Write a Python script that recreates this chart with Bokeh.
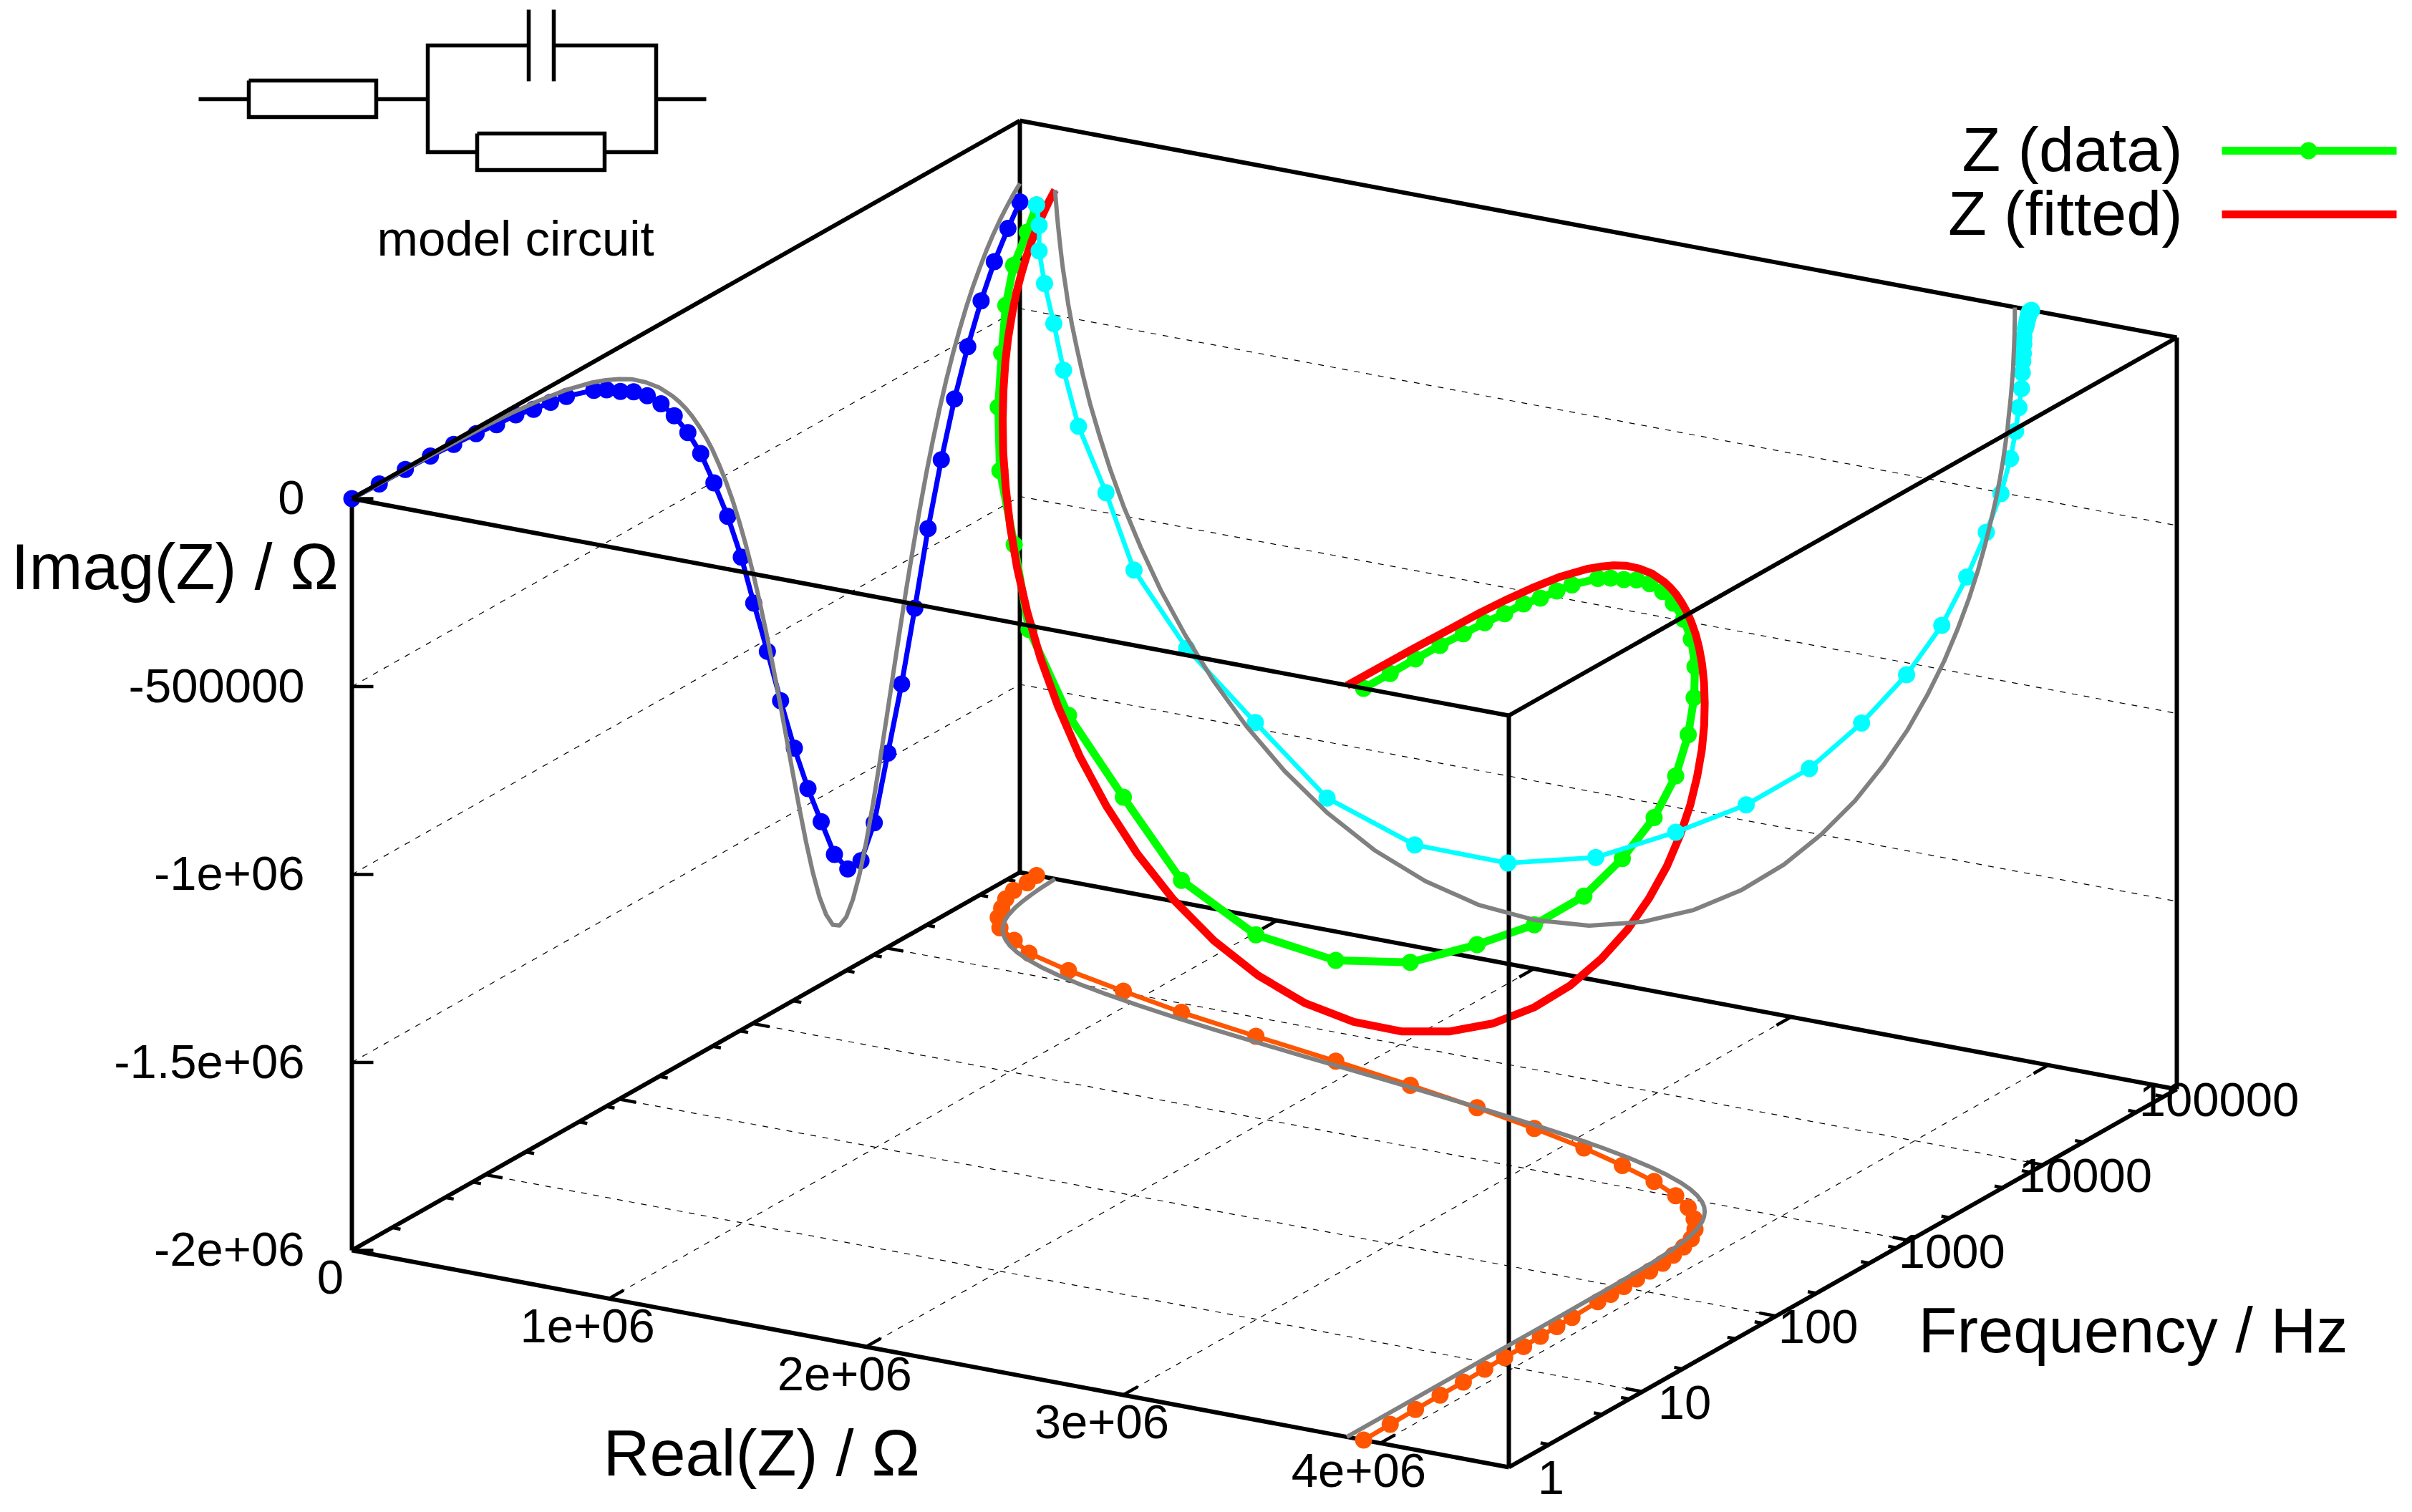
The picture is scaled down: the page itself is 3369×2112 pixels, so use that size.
from bokeh.plotting import figure
from bokeh.models import Range1d
from bokeh.core.properties import value
from bokeh.embed import file_html
from bokeh.resources import INLINE

# ---------- measured data (log10 of frequency in Hz, Z in megaohm) ----------
data_log_f = [0.000, 0.205, 0.400, 0.588, 0.762, 0.930, 1.083, 1.227, 1.360, 1.487, 1.606,
              1.811, 1.907, 2.010, 2.109, 2.211, 2.314, 2.413, 2.515, 2.611, 2.710, 2.813,
              2.915, 3.008, 3.110, 3.209, 3.312, 3.414, 3.513, 3.612, 3.712, 3.811, 3.910,
              4.012, 4.115, 4.214, 4.313, 4.412, 4.511, 4.610, 4.710, 4.809, 4.911, 5.000]
data_real = [3.935, 3.932, 3.929, 3.927, 3.927, 3.923, 3.921, 3.920, 3.916, 3.914, 3.911,
             3.905, 3.905, 3.903, 3.901, 3.899, 3.896, 3.886, 3.873, 3.853, 3.816, 3.759,
             3.683, 3.586, 3.449, 3.274, 3.071, 2.825, 2.551, 2.240, 1.898, 1.536, 1.195,
             0.916, 0.649, 0.444, 0.335, 0.228, 0.170, 0.132, 0.096, 0.075, 0.075, 0.065]
data_imag = [0.000, -0.002, -0.003, -0.005, -0.009, -0.014, -0.021, -0.024, -0.036, -0.043, -0.051,
             -0.076, -0.094, -0.119, -0.140, -0.171, -0.213, -0.265, -0.330, -0.405, -0.503, -0.613,
             -0.742, -0.883, -1.032, -1.183, -1.330, -1.458, -1.566, -1.673, -1.732, -1.730, -1.649,
             -1.484, -1.321, -1.139, -0.947, -0.784, -0.642, -0.523, -0.421, -0.337, -0.269, -0.216]

# ---------- fitted curve ----------
fit_log_f = [0.0, 0.5, 1.0, 1.2, 1.4, 1.6, 1.8, 1.9, 2.0, 2.1, 2.2, 2.3, 2.4, 2.45, 2.5, 2.55, 2.6,
             2.65, 2.7, 2.75, 2.8, 2.85, 2.9, 2.95, 3.0, 3.05, 3.1, 3.15, 3.2, 3.25, 3.3, 3.35, 3.4,
             3.45, 3.5, 3.55, 3.6, 3.65, 3.7, 3.75, 3.8, 3.85, 3.9, 3.95, 4.0, 4.05, 4.1, 4.15, 4.2,
             4.25, 4.3, 4.35, 4.4, 4.45, 4.5, 4.55, 4.6, 4.65, 4.7, 4.75, 4.8, 4.85, 4.9, 4.95, 5.0]
fit_real = [3.870, 3.870, 3.870, 3.870, 3.870, 3.870, 3.869, 3.869, 3.868, 3.867, 3.865, 3.863,
            3.858, 3.855, 3.851, 3.846, 3.841, 3.833, 3.824, 3.812, 3.797, 3.778, 3.755, 3.727,
            3.692, 3.648, 3.595, 3.530, 3.452, 3.358, 3.248, 3.119, 2.972, 2.805, 2.621, 2.423,
            2.214, 2.000, 1.786, 1.577, 1.379, 1.195, 1.029, 0.881, 0.752, 0.642, 0.548, 0.470,
            0.405, 0.352, 0.309, 0.273, 0.245, 0.222, 0.203, 0.188, 0.177, 0.167, 0.160, 0.154,
            0.149, 0.145, 0.142, 0.139, 0.137]
fit_imag = [-0.001, -0.003, -0.008, -0.013, -0.021, -0.033, -0.053, -0.067, -0.084, -0.105, -0.133,
            -0.167, -0.210, -0.235, -0.263, -0.295, -0.331, -0.370, -0.414, -0.464, -0.518, -0.578,
            -0.645, -0.718, -0.797, -0.884, -0.977, -1.075, -1.179, -1.285, -1.393, -1.498, -1.598,
            -1.688, -1.764, -1.821, -1.858, -1.870, -1.858, -1.821, -1.764, -1.688, -1.598, -1.498,
            -1.393, -1.285, -1.179, -1.075, -0.977, -0.884, -0.797, -0.718, -0.645, -0.578, -0.518,
            -0.464, -0.414, -0.370, -0.331, -0.295, -0.263, -0.235, -0.210, -0.187, -0.167]

# ---------- axes ----------
real_ticks = [0, 1, 2, 3, 4]
real_labels = ["0", "1e+06", "2e+06", "3e+06", "4e+06"]
freq_ticks = [0, 1, 2, 3, 4, 5]
freq_labels = ["1", "10", "100", "1000", "10000", "100000"]
freq_minor = [0.301, 0.699, 0.903]
imag_ticks = [0, -0.5, -1, -1.5, -2]
imag_labels = ["0", "-500000", "-1e+06", "-1.5e+06", "-2e+06"]
REAL_MAX, FREQ_MAX, IMAG_MIN, IMAG_MAX = 4.5, 5, -2, 0

# ---------- view of the box ----------
ORIGIN = (491, 1746)
REAL_V = (1616, 303)
FREQ_V = (933, -528)
IMAG_H = 1050
FONT = value("Liberation Sans")


def proj(re, lf, im):
    a, b, c = re / REAL_MAX, lf / FREQ_MAX, (im - IMAG_MIN) / (IMAG_MAX - IMAG_MIN)
    return (ORIGIN[0] + a * REAL_V[0] + b * FREQ_V[0],
            ORIGIN[1] + a * REAL_V[1] + b * FREQ_V[1] - c * IMAG_H)


def path(res, lfs, ims):
    pts = [proj(r, f, i) for r, f, i in zip(res, lfs, ims)]
    return [q[0] for q in pts], [q[1] for q in pts]


p = figure(width=3353, height=2104, output_backend="svg", toolbar_location=None,
           x_range=Range1d(0, 3353), y_range=Range1d(2104, 0), min_border=0,
           outline_line_color=None, background_fill_color="white")
p.axis.visible = False
p.grid.visible = False


def edge(a, b, w=6):
    xs, ys = path([a[0], b[0]], [a[1], b[1]], [a[2], b[2]])
    p.line(xs, ys, line_color="black", line_width=w)


def dashed(pts):
    xs, ys = path(*zip(*pts))
    p.line(xs, ys, line_color="black", line_width=1.2, line_dash="8 9")


R, F, Lo, Hi = REAL_MAX, FREQ_MAX, IMAG_MIN, IMAG_MAX

# grids
for z in imag_ticks[1:-1]:
    dashed([(0, 0, z), (0, F, z), (R, F, z)])
for r in real_ticks[1:]:
    dashed([(r, 0, Lo), (r, F, Lo)])
for f in freq_ticks[1:-1]:
    dashed([(0, f, Lo), (R, f, Lo)])

# back of the box
edge((0, F, Lo), (R, F, Lo))
edge((0, 0, Lo), (0, F, Lo))
edge((0, F, Lo), (0, F, Hi))
edge((R, F, Lo), (R, F, Hi))
edge((0, F, Hi), (R, F, Hi))
edge((0, 0, Lo), (0, 0, Hi))

# ticks
RT = 24 / 1616 * 4.5 * 0.983          # tick length along Real, MOhm
FT = 0.11                             # tick length along Frequency, decades
for r in real_ticks[1:]:
    edge((r, 0, Lo), (r, FT, Lo), 4.5)
    edge((r, F, Lo), (r, F - FT, Lo), 4.5)
for f in freq_ticks:
    edge((R, f, Lo), (R - RT, f, Lo), 4.5)
    edge((0, f, Lo), (RT, f, Lo), 4.5)
    if f < F:
        for m in freq_minor:
            edge((R, f + m, Lo), (R - RT / 2, f + m, Lo), 4.5)
            edge((0, f + m, Lo), (RT / 2, f + m, Lo), 4.5)
for z in imag_ticks:
    x0, y0 = proj(0, 0, z)
    p.line([x0, x0 + 30], [y0, y0], line_color="black", line_width=4.5)

nd, nf = len(data_log_f), len(fit_log_f)
GREY, GW = "#808080", 6
MARK = 24


def trace(res, lfs, ims, color, w, marker=True):
    xs, ys = path(res, lfs, ims)
    p.line(xs, ys, line_color=color, line_width=w, line_join="round")
    if marker:
        p.scatter(xs, ys, size=MARK, fill_color=color, line_color=color, line_width=0)


# 3D curves and the Real = 0 wall
trace(data_real, data_log_f, data_imag, "#00ff00", 11)
trace(fit_real, fit_log_f, fit_imag, "#ff0000", 11, False)
trace([0] * nd, data_log_f, data_imag, "#0000ff", 7)
trace([0] * nf, fit_log_f, fit_imag, GREY, GW, False)

# front vertical and front floor edges
edge((R, 0, Lo), (R, 0, Hi))
edge((0, 0, Lo), (R, 0, Lo))
edge((R, 0, Lo), (R, F, Lo))

# projections on the back wall and on the floor
trace(data_real, [F] * nd, data_imag, "#00ffff", 6.5)
trace(fit_real, [F] * nf, fit_imag, GREY, GW, False)
trace(data_real, data_log_f, [Lo] * nd, "#ff5500", 6.5)
trace(fit_real, fit_log_f, [Lo] * nf, GREY, GW, False)

# top edges in front
edge((0, 0, Hi), (R, 0, Hi))
edge((R, 0, Hi), (R, F, Hi))
edge((0, 0, Hi), (0, F, Hi))


def label(xs, ys, texts, size, align="left", dx=0, dy=0):
    p.text(xs, ys, text=texts, text_font=FONT, text_font_size=f"{size}px", text_align=align,
           text_baseline="alphabetic", text_color="black", x_offset=dx, y_offset=dy - 0.36 * size)


# tick labels
xs, ys = path(real_ticks, [0] * 5, [Lo] * 5)
label(xs, ys, real_labels, 67, "center", -30, 62)
xs, ys = path([R] * 6, freq_ticks, [Lo] * 6)
label(xs, ys, freq_labels, 67, "center", 59, 39)
xs, ys = path([0] * 5, [0] * 5, imag_ticks)
label(xs, ys, imag_labels, 67, "right", -66, 23)

# axis titles
label([15], [824], ["Imag(Z) / Ω"], 90)
label([842], [2062], ["Real(Z) / Ω"], 90)
label([2679], [1890], ["Frequency / Hz"], 88.5)

# legend
label([3048], [240], ["Z (data)"], 88, "right")
label([3048], [329], ["Z (fitted)"], 88, "right")
p.line([3103, 3347], [210, 210], line_color="#00ff00", line_width=11)
p.scatter([3224], [210], size=MARK, fill_color="#00ff00", line_width=0)
p.line([3103, 3347], [299, 299], line_color="#ff0000", line_width=11)

# model circuit sketch
circuit = [([277, 347], [138, 138]), ([525, 597], [138, 138]), ([916, 986], [138, 138]),
           ([737, 597, 597, 666], [63, 63, 212, 212]), ([775, 916, 916, 844], [63, 63, 212, 212]),
           ([738, 738], [13, 113]), ([773, 773], [13, 113]),
           ([347, 525, 525, 347, 347], [112, 112, 163, 163, 112]),
           ([666, 844, 844, 666, 666], [186, 186, 237, 237, 186])]
for cx, cy in circuit:
    p.line(cx, cy, line_color="black", line_width=5.5, line_join="miter")
label([526], [358], ["model circuit"], 69)

open("out.html", "w").write(file_html(p, INLINE))
